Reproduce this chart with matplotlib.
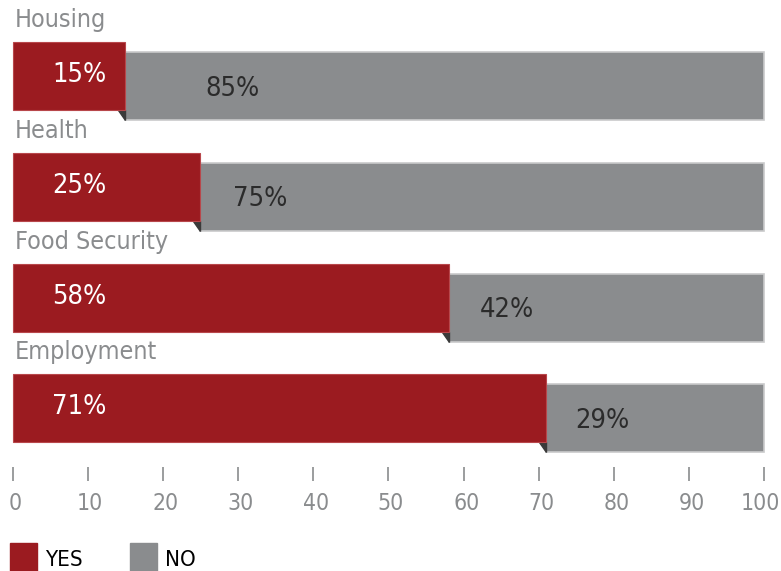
import numpy as np
import matplotlib
matplotlib.use("Agg")
import matplotlib.pyplot as plt
from matplotlib.patches import Rectangle, Polygon

# data
categories = ["Housing", "Health", "Food Security", "Employment"]
yes_vals = [15, 25, 58, 71]
no_vals = [85, 75, 42, 29]
tick_vals = [0, 10, 20, 30, 40, 50, 60, 70, 80, 90, 100]

red = "#9b1b20"
grey = "#8a8c8e"
dark = "#2b2b2b"

plt.rcParams['font.family'] = ['DejaVu Sans']
fstretch = 'condensed'

W, H = 781, 571
fig = plt.figure(figsize=(W / 100, H / 100), dpi=100)
ax = fig.add_axes([0, 0, 1, 1])

# pixel layout: x=0 at 12.5px, 7.52px per unit; y in pixels from top
x0, sc = 12.5, 7.52
ax.set_xlim(-x0 / sc, (W - x0) / sc)
ax.set_ylim(H, 0)
ax.axis('off')

def px(x):
    return (x - x0) / sc

bar_h = 68
red_c = 76 + 110.8 * np.arange(len(categories))
grey_c = red_c + 10
no_lbl_off = [10.6, 4.3, 4.1, 3.9]

ax.barh(grey_c, no_vals, left=yes_vals, height=bar_h, color=grey,
        edgecolor="#c9cacb", linewidth=1.2, zorder=1)
ax.barh(red_c, yes_vals, height=bar_h, color=red, edgecolor="#b8474b",
        linewidth=0.8, zorder=2)

for i, cat in enumerate(categories):
    # category label
    ax.text(px(15), red_c[i] - 56, cat, color=grey, fontsize=18,
            fontstretch=fstretch, ha='left', va='center')
    # small fold shadow
    xe = yes_vals[i]
    yb = red_c[i] + bar_h / 2
    ax.add_patch(Polygon([(xe - 7 / sc, yb), (xe, yb), (xe, yb + 10)],
                         closed=True, color="#3a3a3a", zorder=1.5))
    ax.text(px(52), red_c[i] - 1, f"{yes_vals[i]}%", color="white",
            fontsize=19.5, fontstretch=fstretch, ha='left', va='center', zorder=3)
    ax.text(yes_vals[i] + no_lbl_off[i], grey_c[i] + 2.5, f"{no_vals[i]}%",
            color=dark, fontsize=19.5, fontstretch=fstretch, ha='left',
            va='center', zorder=3)

# axis ticks
ax.vlines(tick_vals, 467, 481, color=grey, linewidth=1.2)
for t in tick_vals:
    if t == tick_vals[-1]:
        ax.text(px(780), 504, str(t), color=grey, fontsize=16.5,
                fontstretch=fstretch, ha='right', va='center')
    else:
        ax.text(t + 2.5 / sc, 504, str(t), color=grey, fontsize=16.5,
                fontstretch=fstretch, ha='center', va='center')

# legend
ax.add_patch(Rectangle((px(10), 543), 27 / sc, 30, color=red, clip_on=False))
ax.add_patch(Rectangle((px(130), 543), 27 / sc, 30, color=grey, clip_on=False))
ax.text(px(45), 560, "YES", color="black", fontsize=16, fontstretch=fstretch,
        ha='left', va='center')
ax.text(px(165), 560, "NO", color="black", fontsize=16, fontstretch=fstretch,
        ha='left', va='center')

fig.savefig("out.png", dpi=100)
